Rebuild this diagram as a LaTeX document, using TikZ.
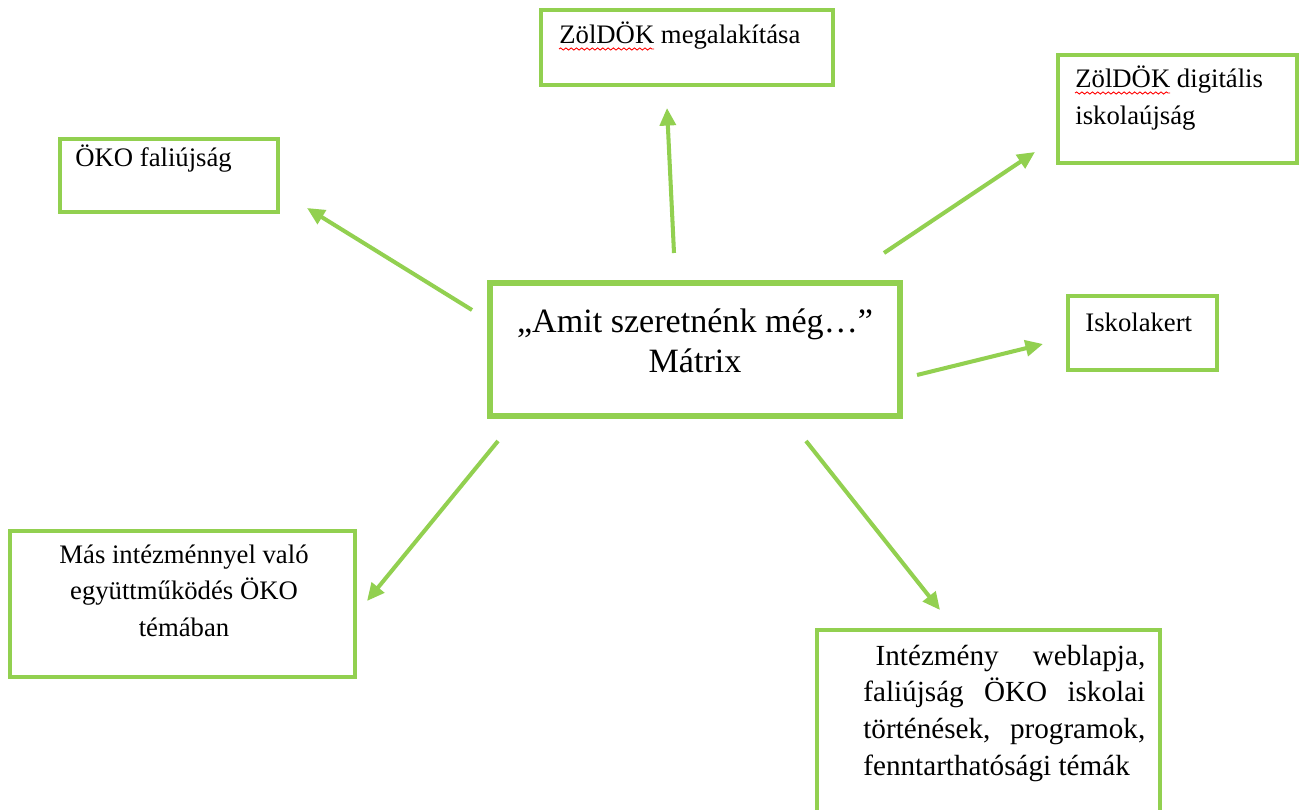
\documentclass[tikz,border=0pt]{standalone}
\usepackage{fontspec}
\setmainfont{Liberation Serif}
\usetikzlibrary{arrows.meta,decorations.pathmorphing}
\definecolor{lgreen}{RGB}{146,208,80}
\tikzset{
  box/.style={draw=lgreen, line width=2.3pt, fill=white, inner sep=0pt},
  cbox/.style={draw=lgreen, line width=3.4pt, fill=white, inner sep=0pt},
  lbl/.style={inner sep=0pt, anchor=base west, font=\fontsize{15.2}{21}\selectfont},
  arr/.style={draw=lgreen, line width=2.3pt, -{Triangle[length=10pt,width=9pt]}},
  wavy/.style={draw=red, line width=0.5pt, decorate, decoration={snake, amplitude=0.6pt, segment length=3pt}}
}
\begin{document}
\begin{tikzpicture}[x=0.02cm,y=-0.02cm]
\useasboundingbox (0,0) rectangle (1300,810);
\clip (0,0) rectangle (1300,810);
\fill[white] (0,0) rectangle (1300,810);
% boxes
\node[box, minimum width=5.84cm, minimum height=1.5cm] (b1) at (687,47.5) {};
\node[box, minimum width=4.78cm, minimum height=2.16cm] (b2) at (1177.5,109) {};
\node[box, minimum width=4.36cm, minimum height=1.46cm] (b3) at (169,175.5) {};
\node[cbox, minimum width=8.2cm, minimum height=2.66cm] (c) at (695,349.5) {};
\node[box, minimum width=2.98cm, minimum height=1.48cm] (b4) at (1142.5,333) {};
\node[box, minimum width=6.9cm, minimum height=2.92cm] (b5) at (182.5,604) {};
\node[box, minimum width=6.86cm, minimum height=4cm] (b6) at (988.5,730) {};
% texts
\node[lbl] (t1) at (559,44) {ZölDÖK megalakítása};
\node[lbl] (t2) at (1075,88) {\parbox[t]{4cm}{ZölDÖK digitális\\iskolaújság}};
\node[lbl] (t3) at (75,167) {ÖKO faliújság};
\node[lbl] (t4) at (1085,332) {Iskolakert};
\node[lbl, anchor=base] (tc) at (695,333) {\fontsize{19.4}{22.6}\selectfont\parbox[t]{8cm}{\centering „Amit szeretnénk még…”\\Mátrix}};
\node[lbl, anchor=base] (t5) at (184,563) {\parbox[t]{6.5cm}{\centering Más intézménnyel való\\együttműködés ÖKO\\témában}};
\node[lbl] (t6) at (863,665) {\fontsize{16.6}{21}\selectfont\parbox[t]{5.64cm}{%
\makebox[5.64cm][s]{\hspace{7pt}Intézmény\hspace{4pt} weblapja,}\\
\makebox[5.64cm][s]{faliújság ÖKO iskolai}\\
\makebox[5.64cm][s]{történések, programok,}\\
fenntarthatósági témák}};
% spell-check underlines
\draw[wavy] (559,49) -- (654,49);
\draw[wavy] (1075,93) -- (1170,93);
% arrows
\coordinate (s1) at (472,310); \coordinate (e1) at (307,208);
\coordinate (s2) at (674,253); \coordinate (e2) at (667,108);
\coordinate (s3) at (884,253); \coordinate (e3) at (1035,152);
\coordinate (s4) at (917,375); \coordinate (e4) at (1043,344);
\coordinate (s5) at (498,441); \coordinate (e5) at (367,601);
\coordinate (s6) at (806,441); \coordinate (e6) at (940,610);
\draw[arr] (s1) -- (e1);
\draw[arr] (s2) -- (e2);
\draw[arr] (s3) -- (e3);
\draw[arr] (s4) -- (e4);
\draw[arr] (s5) -- (e5);
\draw[arr] (s6) -- (e6);
\end{tikzpicture}
\end{document}
